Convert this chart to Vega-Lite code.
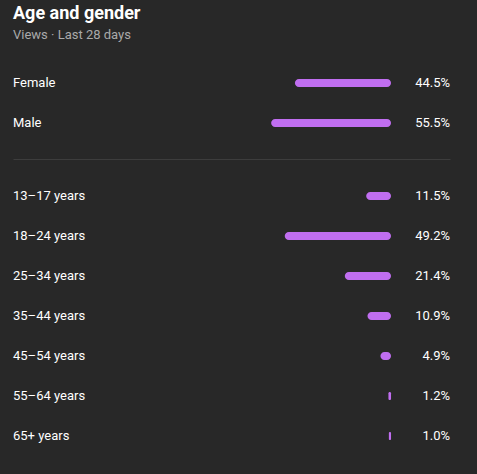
{
  "$schema": "https://vega.github.io/schema/vega-lite/v6.json",
  "background": "#282828",
  "padding": {"left": 13, "right": 27, "top": 5, "bottom": 18},
  "title": {
    "text": "Age and gender",
    "subtitle": "Views · Last 28 days",
    "anchor": "start",
    "font": "Roboto",
    "fontSize": 18,
    "fontWeight": "bold",
    "color": "#ffffff",
    "subtitleFont": "Roboto",
    "subtitleFontSize": 13,
    "subtitleColor": "#aaaaaa",
    "subtitlePadding": 6,
    "offset": 21
  },
  "datasets": {
    "gender": [
      {"label": "Female", "share": 0.445},
      {"label": "Male", "share": 0.555}
    ],
    "age": [
      {"label": "13–17 years", "share": 0.115},
      {"label": "18–24 years", "share": 0.492},
      {"label": "25–34 years", "share": 0.214},
      {"label": "35–44 years", "share": 0.109},
      {"label": "45–54 years", "share": 0.049},
      {"label": "55–64 years", "share": 0.012},
      {"label": "65+ years", "share": 0.010}
    ]
  },
  "config": {
    "view": {"stroke": null},
    "axis": {"grid": false},
    "concat": {"spacing": 17}
  },
  "resolve": {"scale": {"y": "independent", "x": "independent"}},
  "vconcat": [
    {
      "width": 437,
      "height": 80,
      "data": {"name": "gender"},
      "encoding": {
        "y": {"field": "label", "type": "nominal", "sort": null, "scale": {"paddingInner": 0, "paddingOuter": 0}, "axis": null}
      },
      "layer": [
        {
          "mark": {"type": "bar", "height": 8, "cornerRadius": 4, "color": "#c06ef0"},
          "encoding": {
            "x": {"field": "share", "type": "quantitative", "scale": {"domain": [-0.273, 1.75], "reverse": true, "nice": false, "zero": false},
              "axis": {"orient": "bottom", "offset": 16, "labels": false, "ticks": false, "grid": false, "title": null, "domainColor": "#3d3d3d", "domainWidth": 1}},
            "x2": {"datum": 0}
          }
        },
        {
          "mark": {"type": "text", "align": "left", "baseline": "middle", "font": "Roboto", "fontSize": 13, "color": "#ffffff"},
          "encoding": {"x": {"datum": 1.75}, "text": {"field": "label"}}
        },
        {
          "mark": {"type": "text", "align": "right", "baseline": "middle", "font": "Roboto", "fontSize": 13, "color": "#ffffff"},
          "encoding": {"x": {"datum": -0.273}, "text": {"field": "share", "format": ".1%"}}
        }
      ]
    },
    {
      "width": 437,
      "height": 280,
      "data": {"name": "age"},
      "encoding": {
        "y": {"field": "label", "type": "nominal", "sort": null, "scale": {"paddingInner": 0, "paddingOuter": 0}, "axis": null}
      },
      "layer": [
        {
          "mark": {"type": "bar", "height": 8, "cornerRadius": 4, "color": "#c06ef0"},
          "encoding": {
            "x": {"field": "share", "type": "quantitative", "scale": {"domain": [-0.273, 1.75], "reverse": true, "nice": false, "zero": false}, "axis": null},
            "x2": {"datum": 0}
          }
        },
        {
          "mark": {"type": "text", "align": "left", "baseline": "middle", "font": "Roboto", "fontSize": 13, "color": "#ffffff"},
          "encoding": {"x": {"datum": 1.75}, "text": {"field": "label"}}
        },
        {
          "mark": {"type": "text", "align": "right", "baseline": "middle", "font": "Roboto", "fontSize": 13, "color": "#ffffff"},
          "encoding": {"x": {"datum": -0.273}, "text": {"field": "share", "format": ".1%"}}
        }
      ]
    }
  ]
}
